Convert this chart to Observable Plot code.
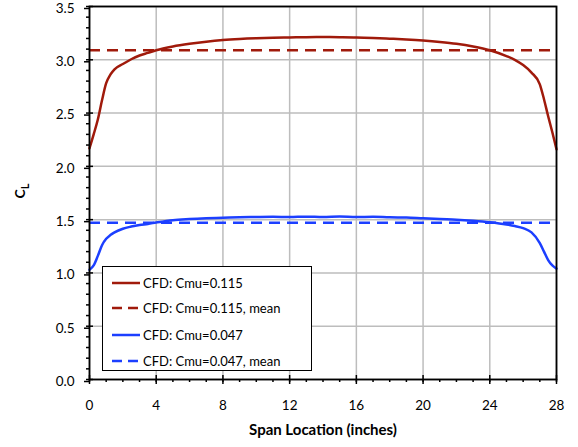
<!DOCTYPE html>
<html>
<head>
<meta charset="utf-8">
<script src="https://cdn.jsdelivr.net/npm/d3@7"></script>
<script src="https://cdn.jsdelivr.net/npm/@observablehq/plot@0.6"></script>
<style>
  body { margin: 0; background: #fff; }
  #wrap { position: relative; width: 578px; height: 447px; font-family: Lato, "Open Sans", sans-serif; }
  #wrap > svg { display: block; }
  #legend { position: absolute; left: 102px; top: 266px; width: 208px; height: 103px; border: 1.5px solid #000; background: #fff; }
  .row { position: absolute; left: 0; height: 20px; display: flex; align-items: center; font-size: 13px; color: #000; white-space: nowrap; }
  .row svg { margin-left: 9px; margin-right: 3px; }
</style>
</head>
<body>
<div id="wrap"></div>
<script>
// Span location (inches)
const spanRed = [0,0.25,0.5,0.75,1,1.25,1.5,2,2.5,3,3.5,4,5,6,7,8,9,10,11,12,13,14,15,16,17,18,19,20,21,22,23,24,25,25.5,26,26.5,27,27.25,27.5,27.75,28];
const clRed   = [2.17,2.30,2.44,2.62,2.78,2.86,2.91,2.96,3.005,3.04,3.065,3.09,3.125,3.15,3.17,3.185,3.195,3.202,3.207,3.21,3.212,3.213,3.212,3.21,3.205,3.198,3.19,3.18,3.167,3.15,3.125,3.09,3.035,3.0,2.95,2.88,2.77,2.63,2.47,2.32,2.16];
const spanBlue = [0,0.25,0.5,0.75,1,1.25,1.5,2,2.5,3,3.5,4,5,6,7,8,9,10,11,12,13,14,15,16,17,18,19,20,21,22,23,24,25,25.5,26,26.5,27,27.25,27.5,27.75,28];
const clBlue   = [1.03,1.07,1.16,1.26,1.32,1.355,1.38,1.415,1.435,1.45,1.46,1.473,1.495,1.505,1.512,1.517,1.522,1.525,1.527,1.524,1.528,1.524,1.529,1.524,1.527,1.522,1.52,1.512,1.505,1.5,1.49,1.476,1.455,1.44,1.42,1.38,1.28,1.20,1.12,1.07,1.04];
const meanRed = 3.09;
const meanBlue = 1.47;
const seriesNames = ["CFD: Cmu=0.115", "CFD: Cmu=0.115, mean", "CFD: Cmu=0.047", "CFD: Cmu=0.047, mean"];
const xMajor = [0,4,8,12,16,20,24,28];
const xMinor = d3.range(0,29,1);
const yMajor = [0,0.5,1,1.5,2,2.5,3,3.5];
const yMinor = d3.range(0,36,1).map(d => d/10);

const RED = "#a01a0b", BLUE = "#1c3fff";
const redData = spanRed.map((x,i) => ({x, y: clRed[i]}));
const blueData = spanBlue.map((x,i) => ({x, y: clBlue[i]}));

const chart = Plot.plot({
  width: 578, height: 447,
  marginLeft: 89, marginRight: 22, marginTop: 6, marginBottom: 68,
  style: {fontFamily: "Lato, 'Open Sans', sans-serif", fontSize: "13.5px", color: "#000", background: "#fff", overflow: "visible"},
  x: {domain: [0,28]},
  y: {domain: [0,3.5]},
  marks: [
    Plot.gridX(xMajor, {stroke: "#bdbdbd", strokeOpacity: 1, strokeWidth: 1.5}),
    Plot.gridY(yMajor, {stroke: "#bdbdbd", strokeOpacity: 1, strokeWidth: 1.5}),
    Plot.ruleY([meanRed], {stroke: RED, strokeWidth: 2.5, strokeDasharray: "11,7"}),
    Plot.ruleY([meanBlue], {stroke: BLUE, strokeWidth: 2.5, strokeDasharray: "11,7"}),
    Plot.line(redData, {x: "x", y: "y", stroke: RED, strokeWidth: 2.5, curve: "monotone-x"}),
    Plot.line(blueData, {x: "x", y: "y", stroke: BLUE, strokeWidth: 2.5, curve: "monotone-x"}),
    Plot.frame({stroke: "#000", strokeWidth: 1.8}),
    Plot.axisX(xMinor, {tickSize: 3, tickFormat: () => "", strokeWidth: 1.5, label: null}),
    Plot.axisX(xMajor, {tickSize: 5, tickPadding: 16, strokeWidth: 1.5, label: null}),
    Plot.axisX(xMajor, {tickSize: -4, tickFormat: () => "", strokeWidth: 1.5, label: null}),
    Plot.axisY(yMinor, {tickSize: 3, tickFormat: () => "", strokeWidth: 1.5, label: null}),
    Plot.axisY(yMajor, {tickSize: 5, tickPadding: 10, dy: 2, tickFormat: d3.format(".1f"), strokeWidth: 1.5, label: null}),
    Plot.axisY(yMajor, {tickSize: -4, tickFormat: () => "", strokeWidth: 1.5, label: null}),
    Plot.text(["Span Location (inches)"], {frameAnchor: "bottom", dy: 55, fontWeight: "bold", fontSize: 15})
  ]
});

const svg = d3.select(chart);
const cl = svg.append("text")
  .attr("transform", "translate(25,191) rotate(-90)")
  .attr("text-anchor", "middle")
  .attr("font-weight", "bold")
  .attr("font-size", 14)
  .attr("font-family", "Lato, sans-serif");
cl.append("tspan").text("C");
cl.append("tspan").attr("font-size", 11).attr("dy", 4).text("L");

const wrap = document.getElementById("wrap");
wrap.appendChild(chart);

const legend = document.createElement("div");
legend.id = "legend";
const rowsTop = [6, 31, 57.5, 83.5];
const styles = [[RED, null],[RED, "10,6"],[BLUE, null],[BLUE, "10,6"]];
seriesNames.forEach((name, i) => {
  const row = document.createElement("div");
  row.className = "row";
  row.style.top = rowsTop[i] + "px";
  const dash = styles[i][1] ? `stroke-dasharray="${styles[i][1]}"` : "";
  row.innerHTML = `<svg width="28" height="6"><line x1="0" y1="3" x2="28" y2="3" stroke="${styles[i][0]}" stroke-width="2.5" ${dash}/></svg><span>${name}</span>`;
  legend.appendChild(row);
});
wrap.appendChild(legend);
</script>
</body>
</html>
